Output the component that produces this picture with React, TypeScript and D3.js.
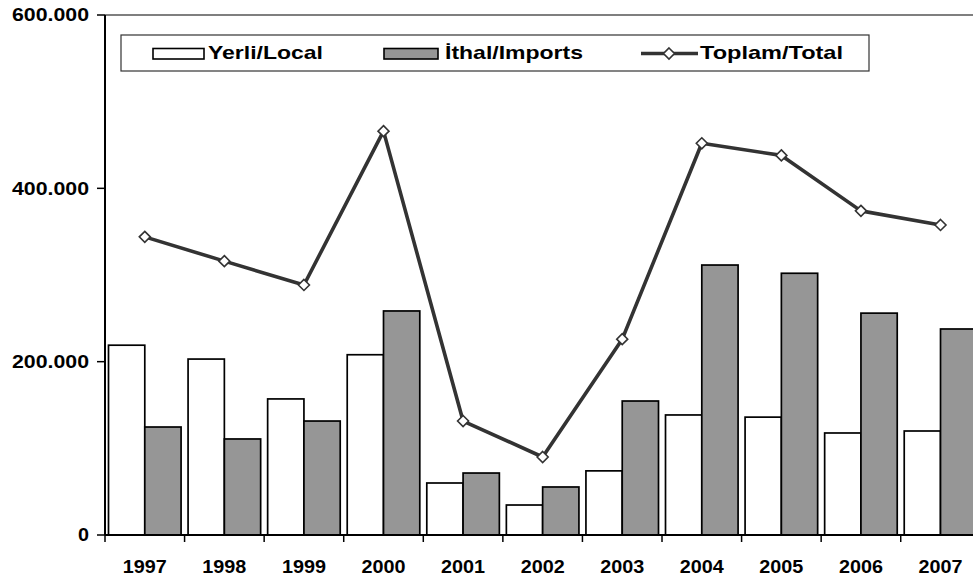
import React from "react";
import * as d3 from "d3";

const years = ["1997", "1998", "1999", "2000", "2001", "2002", "2003", "2004", "2005", "2006", "2007"];
const localValues = [219000, 203000, 157000, 208000, 60000, 34600, 74000, 138500, 136000, 117700, 120000];
const importValues = [124600, 110800, 131500, 258500, 71500, 55400, 154600, 311500, 302000, 256000, 237700];
const totalValues = [344000, 316000, 288500, 466000, 131500, 90000, 226000, 452000, 438000, 374000, 357700];
const yTicks = [0, 200000, 400000, 600000];
const yTickLabels = ["0", "200.000", "400.000", "600.000"];
const seriesNames = ["Yerli/Local", "İthal/Imports", "Toplam/Total"];

const W = 973;
const H = 583;
const FONT = "Arial, 'Liberation Sans', Helvetica, sans-serif";

export default function App() {
  const left = 105;
  const top = 15;
  const bottom = 535;
  const right = 980.3;

  const x = d3.scaleBand<string>().domain(years).range([left, right]).paddingInner(0).paddingOuter(0);
  const bw = x.bandwidth();
  const inner = d3.scaleBand<string>().domain(["local", "imports"]).range([3.5, bw - 3.5]).padding(0);
  const y = d3.scaleLinear().domain([0, 600000]).range([bottom, top]);

  const line = d3
    .line<number>()
    .x((_, i) => (x(years[i]) as number) + bw / 2)
    .y((d) => y(d));

  const diamond = (cx: number, cy: number, r: number) =>
    `M${cx},${cy - r}L${cx + r},${cy}L${cx},${cy + r}L${cx - r},${cy}Z`;

  const yLabelWidths = [11, 77, 77, 77];

  return (
    <svg
      width={W}
      height={H}
      style={{ position: "fixed", left: 0, top: 0, background: "#fff" }}
      fontFamily={FONT}
    >
      <rect x={0} y={0} width={W} height={H} fill="#fff" />
      {/* plot area border (top/right) */}
      <line x1={left} x2={right} y1={top} y2={top} stroke="#555" strokeWidth={1.5} />
      <line x1={right} x2={right} y1={top} y2={bottom} stroke="#555" strokeWidth={1.5} />

      {/* bars */}
      {years.map((yr, i) => {
        const bx = x(yr) as number;
        return (
          <g key={yr}>
            <rect
              x={bx + (inner("local") as number)}
              y={y(localValues[i])}
              width={inner.bandwidth()}
              height={bottom - y(localValues[i])}
              fill="#ffffff"
              stroke="#000"
              strokeWidth={1.7}
            />
            <rect
              x={bx + (inner("imports") as number)}
              y={y(importValues[i])}
              width={inner.bandwidth()}
              height={bottom - y(importValues[i])}
              fill="#969696"
              stroke="#000"
              strokeWidth={1.7}
            />
          </g>
        );
      })}

      {/* total line */}
      <path d={line(totalValues) || ""} fill="none" stroke="#333333" strokeWidth={3.6} strokeLinejoin="round" />
      {totalValues.map((v, i) => (
        <path
          key={i}
          d={diamond((x(years[i]) as number) + bw / 2, y(v), 5.5)}
          fill="#fff"
          stroke="#333333"
          strokeWidth={1.6}
        />
      ))}

      {/* axes */}
      <line x1={left} x2={left} y1={top} y2={bottom} stroke="#000" strokeWidth={2} />
      <line x1={left} x2={right} y1={bottom} y2={bottom} stroke="#000" strokeWidth={2} />
      {yTicks.map((t, i) => (
        <g key={t}>
          <line x1={97} x2={left} y1={y(t)} y2={y(t)} stroke="#000" strokeWidth={1.5} />
          <text
            x={89}
            y={y(t) + 6.3}
            textAnchor="end"
            fontSize={17.5}
            fontWeight="bold"
            textLength={yLabelWidths[i]}
            lengthAdjust="spacingAndGlyphs"
            fill="#000"
          >
            {yTickLabels[i]}
          </text>
        </g>
      ))}
      {years.map((yr) => (
        <line
          key={"t" + yr}
          x1={x(yr) as number}
          x2={x(yr) as number}
          y1={bottom}
          y2={bottom + 7}
          stroke="#000"
          strokeWidth={1.5}
        />
      ))}
      {years.map((yr) => (
        <text
          key={"l" + yr}
          x={(x(yr) as number) + bw / 2}
          y={572.5}
          textAnchor="middle"
          fontSize={18.5}
          fontWeight="bold"
          textLength={44}
          lengthAdjust="spacingAndGlyphs"
          fill="#000"
        >
          {yr}
        </text>
      ))}

      {/* legend */}
      <rect x={121} y={35} width={748} height={36} fill="#fff" stroke="#333" strokeWidth={1.2} />
      <rect x={153} y={48.5} width={51} height={10.5} fill="#fff" stroke="#000" strokeWidth={1.6} />
      <text x={208} y={59} fontSize={19} fontWeight="bold" textLength={115} lengthAdjust="spacingAndGlyphs">
        {seriesNames[0]}
      </text>
      <rect x={384} y={48.5} width={54} height={10.5} fill="#969696" stroke="#000" strokeWidth={1.6} />
      <text x={445} y={59} fontSize={19} fontWeight="bold" textLength={138} lengthAdjust="spacingAndGlyphs">
        {seriesNames[1]}
      </text>
      <line x1={641} x2={698} y1={53.5} y2={53.5} stroke="#333" strokeWidth={3.6} />
      <path d={diamond(669, 53.5, 5.5)} fill="#fff" stroke="#333" strokeWidth={1.6} />
      <text x={700} y={59} fontSize={19} fontWeight="bold" textLength={143} lengthAdjust="spacingAndGlyphs">
        {seriesNames[2]}
      </text>
    </svg>
  );
}
